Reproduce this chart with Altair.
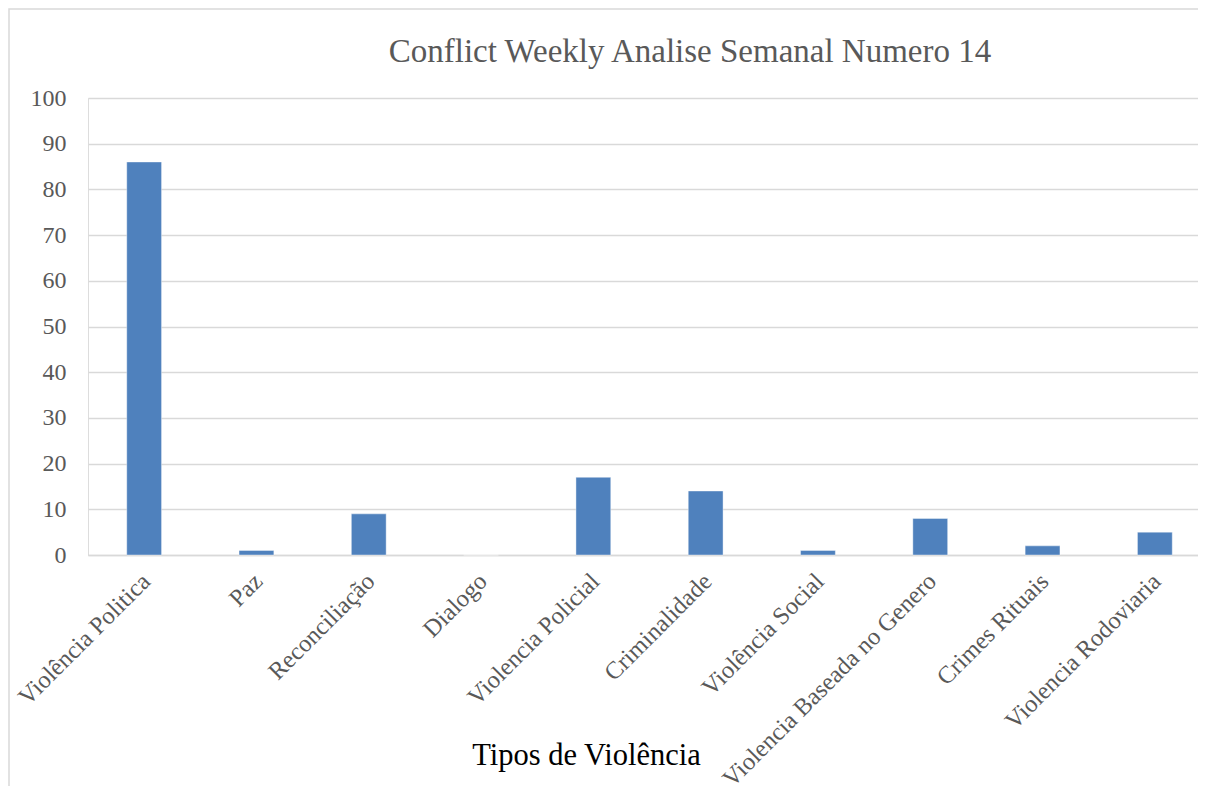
import altair as alt
import pandas as pd

categorias = [
    "Violência Politica",
    "Paz",
    "Reconciliação",
    "Dialogo",
    "Violencia Policial",
    "Criminalidade",
    "Violência Social",
    "Violencia Baseada no Genero",
    "Crimes Rituais",
    "Violencia Rodoviaria",
]
valores = [86, 1, 9, 0, 17, 14, 1, 8, 2, 5]
y_ticks = [0, 10, 20, 30, 40, 50, 60, 70, 80, 90, 100]

titulo = "Conflict Weekly Analise Semanal Numero 14"
titulo_x = "Tipos de Violência"

df = pd.DataFrame({"categoria": categorias, "valor": valores})

FONT = "Liberation Serif"
GRID = "#d9d9d9"
LABEL = "#595959"

bars = alt.Chart(df).mark_bar(
    color="#4F81BD", stroke="#ffffff", strokeWidth=0.8, strokeOpacity=0.5
).encode(
    x=alt.X(
        "categoria:N",
        sort=categorias,
        scale=alt.Scale(paddingInner=0.69, paddingOuter=0.345, range=[0, 1123]),
        axis=alt.Axis(
            title=titulo_x,
            labelAngle=-45,
            labelFontSize=24.5,
            labelColor=LABEL,
            labelFont=FONT,
            labelPadding=14,
            labelOffset=-6,
            labelLimit=0,
            ticks=False,
            domainColor=GRID,
            domainWidth=1.5,
            titleFont=FONT,
            titleFontSize=30.5,
            titleFontWeight="normal",
            titleColor="#000000",
            titleX=498,
            titleY=209,
            titleAlign="center",
            titleBaseline="alphabetic",
        ),
    ),
    y=alt.Y(
        "valor:Q",
        scale=alt.Scale(domain=[0, 100]),
        axis=alt.Axis(
            title=None,
            values=y_ticks,
            labelFontSize=24,
            labelColor=LABEL,
            labelFont=FONT,
            labelPadding=22,
            ticks=False,
            domain=False,
            gridColor=GRID,
            gridWidth=1.5,
        ),
    ),
)

border = alt.Chart(pd.DataFrame({"a": [0]})).mark_rect(
    fillOpacity=0, stroke=GRID, strokeWidth=1.5
).encode(
    x=alt.value(-79),
    x2=alt.value(1200),
    y=alt.value(-89),
    y2=alt.value(800),
)

chart = alt.layer(border, bars).properties(
    width=1110,
    height=457,
    padding={"left": 80, "top": 90, "right": 0, "bottom": 231},
    autosize=alt.AutoSizeParams(type="none"),
    title=alt.TitleParams(
        text=titulo,
        font=FONT,
        fontSize=33,
        fontWeight="normal",
        color=LABEL,
        anchor="middle",
        dx=47,
        offset=-87,
        baseline="alphabetic",
    ),
).configure_view(stroke=None).configure(background="white")

chart.save("out.html", embed_options={"renderer": "svg", "actions": False})
